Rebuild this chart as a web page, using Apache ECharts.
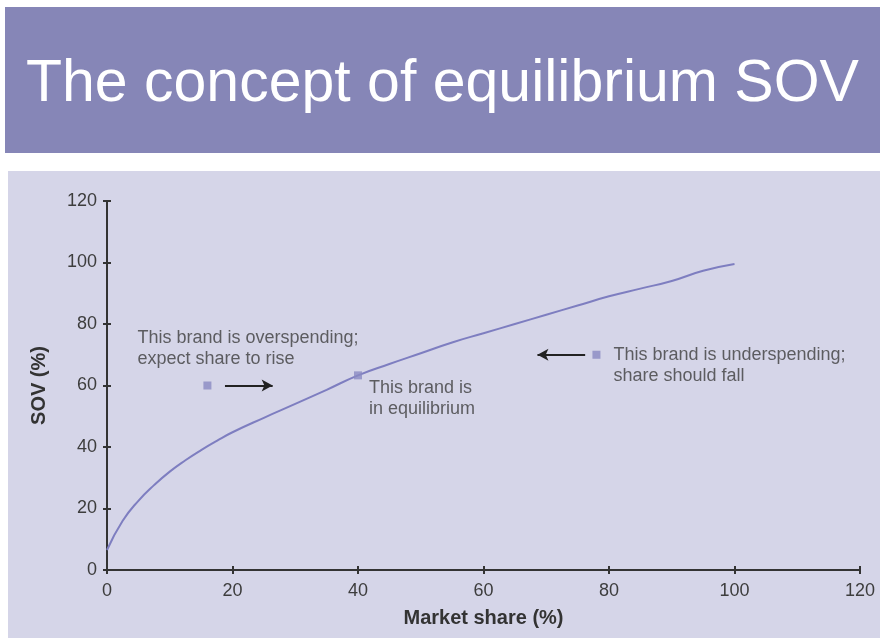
<!DOCTYPE html>
<html>
<head>
<meta charset="utf-8">
<script src="https://cdn.jsdelivr.net/npm/echarts@6/dist/echarts.min.js"></script>
<style>
  body { margin: 0; background: #fff; }
  .page { position: relative; width: 880px; height: 638px; overflow: hidden; }
  .header { position: absolute; left: 5px; top: 7px; width: 875px; height: 146px; background: #8686b7; }
  .panel { position: absolute; left: 8px; top: 171px; width: 872px; height: 467px; background: #d5d5e8; }
  #chart { position: absolute; left: 0; top: 0; width: 880px; height: 638px; }
</style>
</head>
<body>
<div class="page">
  <div class="header"></div>
  <div class="panel"></div>
  <div id="chart"></div>
</div>
<script>
// equilibrium curve: SOV (%) against market share (%)
const shareX = [0, 2.5, 5, 7.5, 10, 12.5, 15, 17.5, 20, 25, 30, 35, 40, 45, 50, 55, 60, 65, 70, 75, 80, 85, 90, 95, 100];
const sovY = [6.5, 16, 22.5, 27.6, 32, 35.7, 39, 42, 44.8, 49.5, 54, 58.6, 63.3, 67, 70.5, 74, 77, 80, 83, 86, 89, 91.5, 94, 97.3, 99.5];

// brand positions and their notes
const brandPoints = [[16, 60], [40, 63.3], [78, 70]];
const brandNotes = [
  'This brand is overspending;\nexpect share to rise',
  'This brand is\nin equilibrium',
  'This brand is underspending;\nshare should fall'
];

// arrows showing where share moves
const arrows = [
  [[18.8, 60], [26.4, 60]],
  [[76.2, 70], [68.6, 70]]
];

const axisTicks = [0, 20, 40, 60, 80, 100, 120];

const chart = echarts.init(document.getElementById('chart'));

const textColor = '#3d3d3d';
const font = '"Liberation Sans", Arial, Helvetica, sans-serif';

// offsets of each note from its marker (label anchored at marker centre)
const noteOffsets = [[-70, -58], [11, 2], [17, -10]];

const axisBase = {
  type: 'value',
  min: 0,
  max: 120,
  interval: 20,
  splitLine: { show: false }
};

chart.setOption({
  animation: false,
  title: {
    text: 'The concept of equilibrium SOV',
    left: 21,
    top: 50,
    textStyle: { color: '#ffffff', fontSize: 59, fontWeight: 'normal', fontFamily: font }
  },
  grid: { left: 107, right: 20, top: 201, bottom: 68 },
  xAxis: [
    Object.assign({}, axisBase, {
      name: 'Market share (%)',
      nameLocation: 'middle',
      nameGap: 38,
      nameTextStyle: { fontSize: 20, fontWeight: 'bold', color: '#333', fontFamily: font },
      axisLine: { lineStyle: { color: '#333', width: 2 } },
      axisTick: { show: true, length: 4, lineStyle: { color: '#333', width: 2 } },
      axisLabel: { margin: 12, fontSize: 18, color: textColor, fontFamily: font,
        formatter: v => axisTicks.includes(v) ? String(v) : '' }
    }),
    Object.assign({}, axisBase, {
      position: 'bottom',
      axisLine: { show: false },
      axisTick: { show: true, inside: true, length: 4, lineStyle: { color: '#333', width: 2 } },
      axisLabel: { show: false }
    })
  ],
  yAxis: [
    Object.assign({}, axisBase, {
      name: 'SOV (%)',
      nameLocation: 'middle',
      nameGap: 58,
      nameTextStyle: { fontSize: 20, fontWeight: 'bold', color: '#333', fontFamily: font },
      axisLine: { show: true, lineStyle: { color: '#333', width: 2 } },
      axisTick: { show: true, length: 4, lineStyle: { color: '#333', width: 2 } },
      axisLabel: { margin: 10, fontSize: 18, color: textColor, fontFamily: font }
    }),
    Object.assign({}, axisBase, {
      position: 'left',
      axisLine: { show: false },
      axisTick: { show: true, inside: true, length: 4, lineStyle: { color: '#333', width: 2 } },
      axisLabel: { show: false }
    })
  ],
  series: [
    {
      name: 'Equilibrium',
      type: 'line',
      smooth: 0.5,
      showSymbol: false,
      data: shareX.map((x, i) => [x, sovY[i]]),
      lineStyle: { color: '#7e7ec0', width: 2 },
      z: 3
    },
    {
      name: 'Brands',
      type: 'scatter',
      symbol: 'rect',
      symbolSize: 8,
      itemStyle: { color: '#8a8ac2' },
      z: 4,
      data: brandPoints.map((p, i) => ({
        value: p,
        label: {
          show: true,
          position: 'inside',
          align: 'left',
          verticalAlign: 'top',
          offset: noteOffsets[i],
          formatter: brandNotes[i],
          fontSize: 18,
          lineHeight: 21,
          color: textColor,
          fontFamily: font
        }
      }))
    },
    {
      name: 'Arrows',
      type: 'line',
      data: [],
      markLine: {
        silent: true,
        symbol: ['none', 'arrow'],
        symbolSize: [9, 11],
        label: { show: false },
        lineStyle: { color: '#222', width: 2, type: 'solid' },
        data: arrows.map(a => [{ coord: a[0] }, { coord: a[1] }])
      }
    }
  ]
});
</script>
</body>
</html>
